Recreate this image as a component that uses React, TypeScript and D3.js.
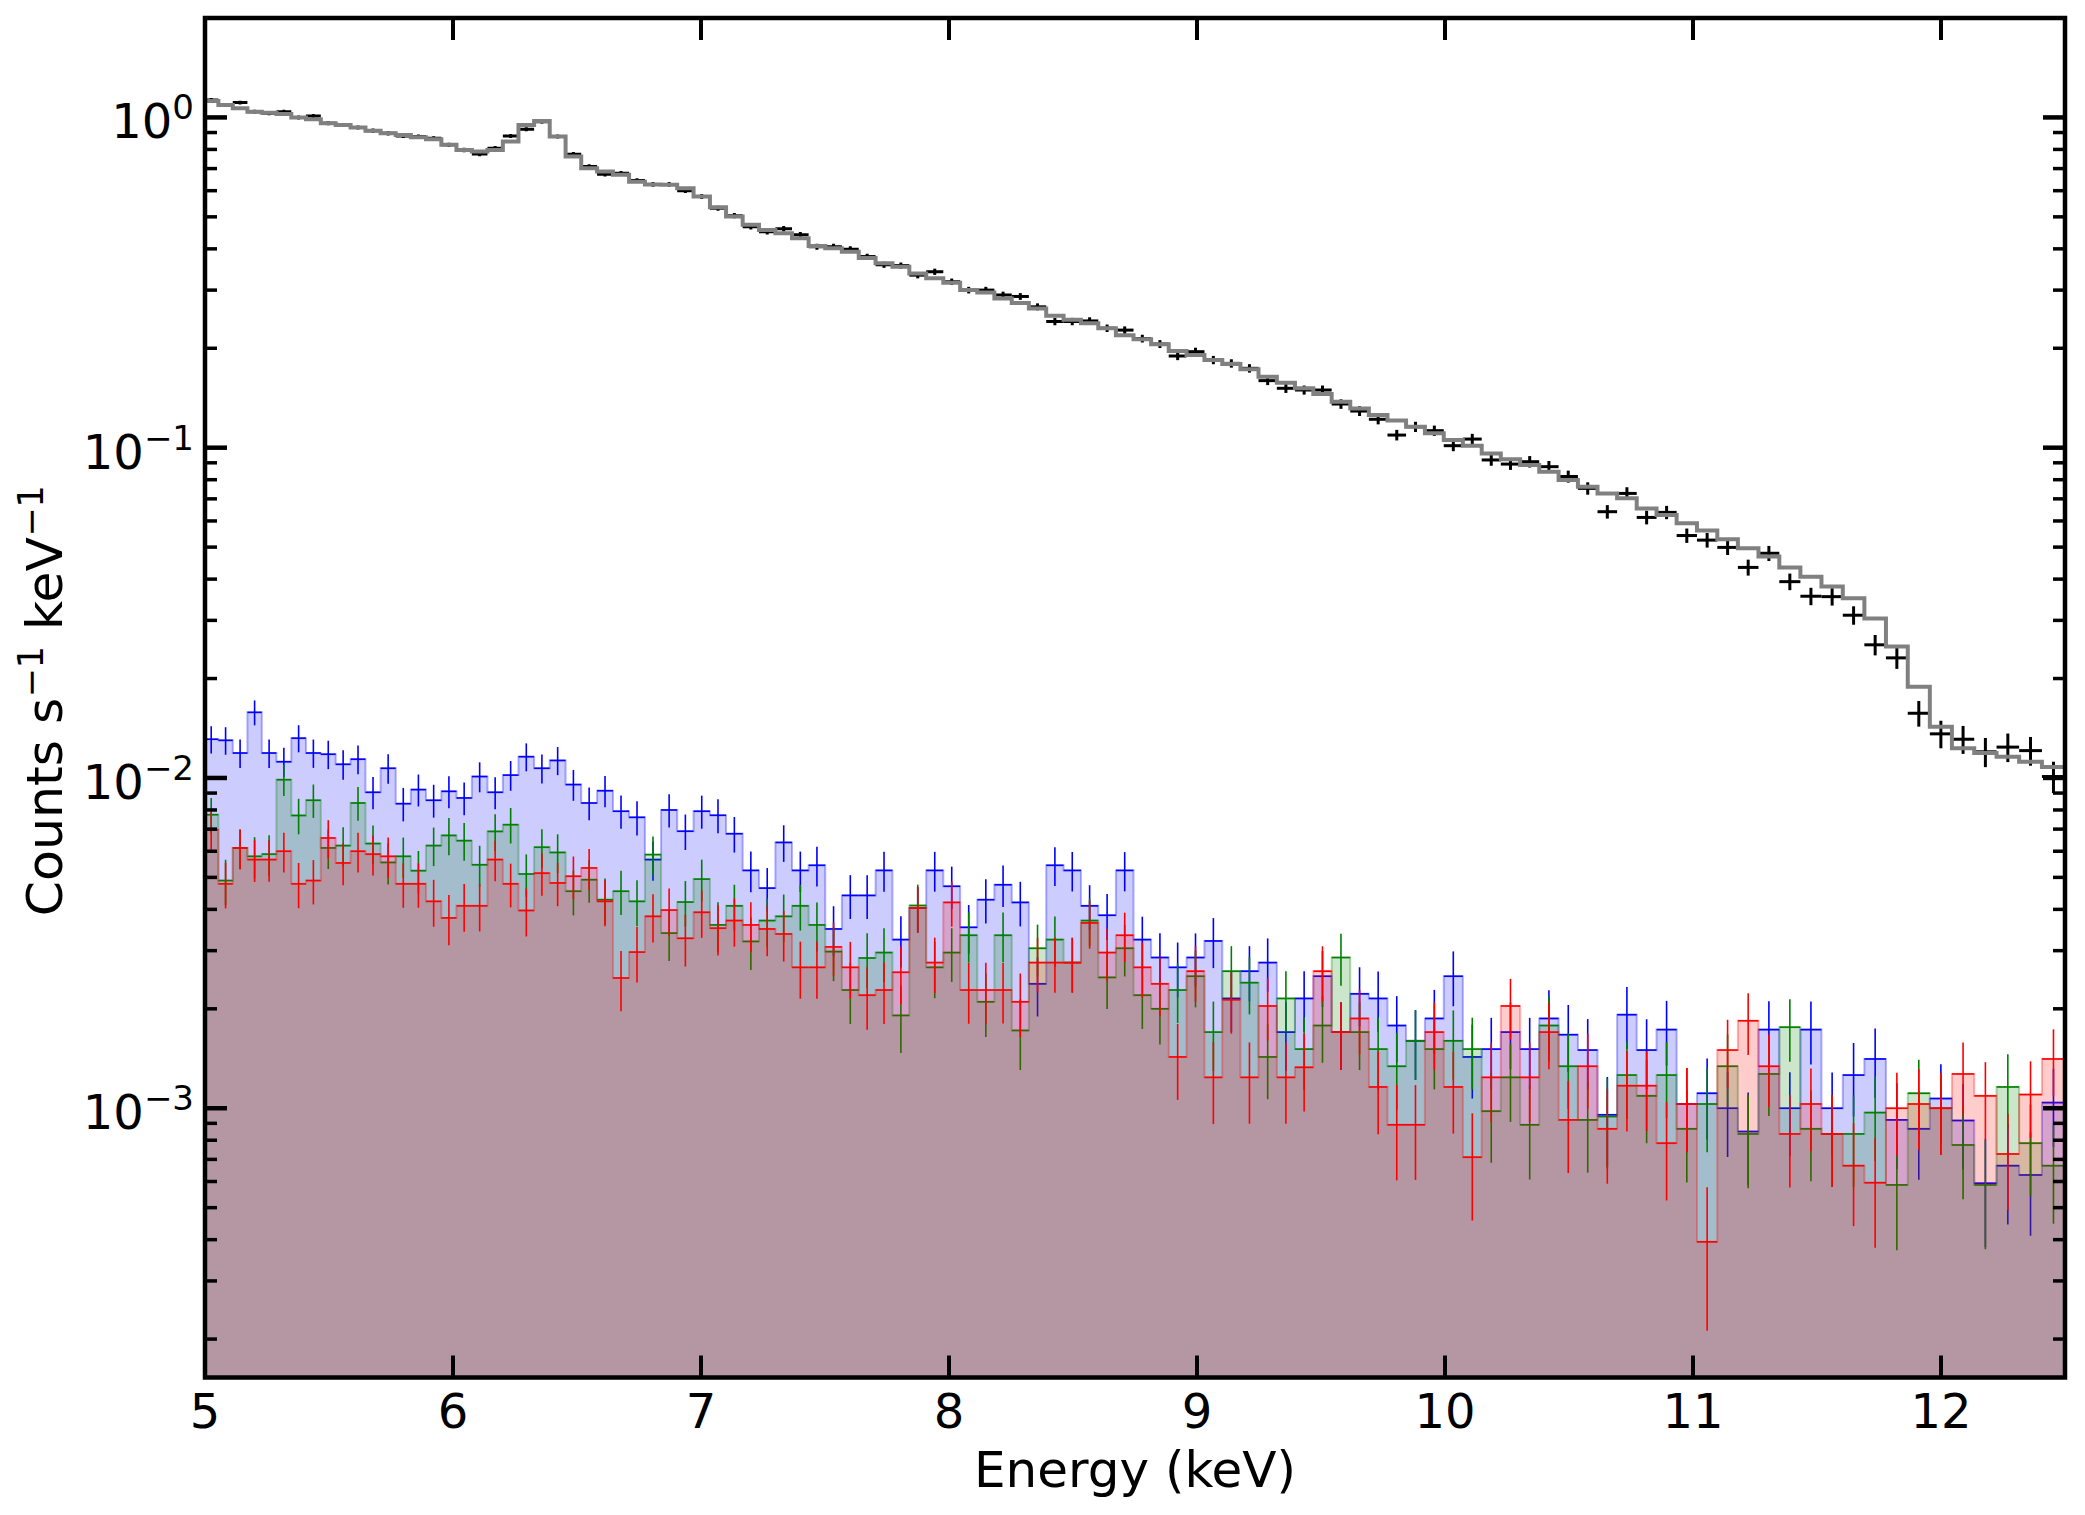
import React from 'react';
import * as d3 from 'd3';

// Shared channel grouping (keV): 106 edges -> 105 bins
const EDGES = [
  4.996, 5.054, 5.112, 5.171, 5.229, 5.288, 5.348, 5.407, 5.467, 5.527,
  5.587, 5.647, 5.708, 5.769, 5.83, 5.891, 5.953, 6.014, 6.076, 6.139,
  6.201, 6.264, 6.327, 6.39, 6.454, 6.517, 6.581, 6.645, 6.71, 6.774,
  6.839, 6.904, 6.97, 7.036, 7.101, 7.168, 7.234, 7.3, 7.367, 7.434,
  7.501, 7.568, 7.636, 7.704, 7.772, 7.84, 7.908, 7.977, 8.045, 8.114,
  8.183, 8.253, 8.322, 8.392, 8.462, 8.532, 8.602, 8.673, 8.744, 8.815,
  8.886, 8.958, 9.03, 9.102, 9.175, 9.248, 9.322, 9.395, 9.469, 9.543,
  9.618, 9.693, 9.768, 9.843, 9.919, 9.995, 10.072, 10.148, 10.225, 10.303,
  10.38, 10.458, 10.536, 10.615, 10.694, 10.773, 10.853, 10.934, 11.016, 11.098,
  11.181, 11.264, 11.348, 11.433, 11.518, 11.604, 11.691, 11.778, 11.866, 11.955,
  12.044, 12.134, 12.224, 12.315, 12.407, 12.5,
];

// Source spectrum (counts s^-1 keV^-1)
const SRC_RATE = [
  1.13, 1.091, 1.109, 1.041, 1.029, 1.041, 0.999, 1.01, 0.96, 0.949,
  0.932, 0.912, 0.895, 0.879, 0.875, 0.865, 0.826, 0.797, 0.775, 0.807,
  0.879, 0.921, 0.971, 0.875, 0.774, 0.71, 0.673, 0.678, 0.644, 0.627,
  0.627, 0.6, 0.576, 0.531, 0.504, 0.467, 0.451, 0.46, 0.441, 0.406,
  0.406, 0.399, 0.379, 0.358, 0.356, 0.333, 0.341, 0.318, 0.3, 0.3,
  0.29, 0.287, 0.267, 0.241, 0.241, 0.242, 0.23, 0.227, 0.214, 0.206,
  0.1895, 0.1953, 0.1843, 0.18, 0.1739, 0.1596, 0.1513, 0.1495, 0.1495, 0.1356,
  0.1291, 0.1219, 0.1092, 0.1157, 0.1126, 0.1014, 0.1062, 0.0918, 0.0892, 0.0907,
  0.0876, 0.0818, 0.0753, 0.064, 0.0727, 0.0615, 0.0637, 0.0542, 0.0525, 0.0499,
  0.0434, 0.0479, 0.0393, 0.0355, 0.0354, 0.0311, 0.0253, 0.0231, 0.0157, 0.0136,
  0.0131, 0.012, 0.0124, 0.0121, 0.0101,
];

// Folded model
const SRC_MODEL = [
  1.122, 1.091, 1.066, 1.041, 1.034, 1.025, 0.999, 0.987, 0.96, 0.949,
  0.932, 0.912, 0.895, 0.885, 0.871, 0.859, 0.826, 0.797, 0.788, 0.797,
  0.845, 0.949, 0.976, 0.875, 0.761, 0.702, 0.686, 0.67, 0.639, 0.627,
  0.625, 0.61, 0.576, 0.535, 0.501, 0.473, 0.456, 0.446, 0.431, 0.408,
  0.402, 0.392, 0.375, 0.362, 0.353, 0.337, 0.326, 0.316, 0.3, 0.295,
  0.283, 0.274, 0.264, 0.251, 0.244, 0.238, 0.23, 0.219, 0.213, 0.2056,
  0.1962, 0.1909, 0.1843, 0.1792, 0.1727, 0.1641, 0.1574, 0.1513, 0.1454, 0.1378,
  0.1315, 0.1256, 0.1208, 0.1158, 0.1105, 0.1055, 0.1014, 0.0961, 0.0922, 0.0886,
  0.0846, 0.0798, 0.0762, 0.0727, 0.0703, 0.0655, 0.0625, 0.059, 0.0561, 0.0528,
  0.0496, 0.0468, 0.0434, 0.0407, 0.038, 0.035, 0.0304, 0.025, 0.0189, 0.0143,
  0.0123, 0.0119, 0.0116, 0.0112, 0.0108,
];

// Background spectra
const BKG_BLUE = [
  0.0131, 0.013, 0.0119, 0.0158, 0.0119, 0.0112, 0.0132, 0.0119, 0.0118, 0.011,
  0.0114, 0.00905, 0.0107, 0.00836, 0.00922, 0.00856, 0.00911, 0.0087, 0.0101, 0.00905,
  0.0102, 0.0116, 0.0107, 0.0113, 0.00955, 0.0084, 0.00915, 0.00793, 0.0076, 0.00566,
  0.008, 0.0069, 0.00793, 0.00771, 0.00678, 0.00525, 0.00464, 0.00638, 0.00525, 0.00544,
  0.00349, 0.00441, 0.00441, 0.00525, 0.00324, 0.00404, 0.00525, 0.0047, 0.00353, 0.00428,
  0.00475, 0.0042, 0.00238, 0.00544, 0.00525, 0.0041, 0.00384, 0.00525, 0.00324, 0.00286,
  0.00267, 0.00286, 0.00321, 0.00215, 0.0026, 0.00276, 0.0017, 0.00215, 0.00251, 0.0017,
  0.00222, 0.00215, 0.00178, 0.0016, 0.00187, 0.00251, 0.00143, 0.00151, 0.0017, 0.00151,
  0.00187, 0.00167, 0.0015, 0.000955, 0.00192, 0.0015, 0.00173, 0.00103, 0.00111, 0.001,
  0.00085, 0.00173, 0.001, 0.00173, 0.001, 0.00126, 0.00141, 0.000922, 0.000866, 0.00107,
  0.000918, 0.000593, 0.00067, 0.000628, 0.00104,
];

const BKG_GREEN = [
  0.00774, 0.00489, 0.00614, 0.00579, 0.00588, 0.00988, 0.0077, 0.00856, 0.00614, 0.00624,
  0.0084, 0.00633, 0.00555, 0.00579, 0.00524, 0.00624, 0.0067, 0.00646, 0.00546, 0.00689,
  0.00722, 0.00512, 0.00617, 0.00595, 0.00454, 0.00492, 0.00428, 0.00454, 0.00423, 0.00586,
  0.00339, 0.00421, 0.00494, 0.00359, 0.0041, 0.0032, 0.0037, 0.00381, 0.0041, 0.00359,
  0.00298, 0.00228, 0.00285, 0.00296, 0.00191, 0.00411, 0.00267, 0.00296, 0.00334, 0.0021,
  0.00334, 0.00172, 0.00305, 0.00324, 0.00276, 0.0037, 0.00249, 0.00305, 0.0022, 0.002,
  0.00228, 0.00251, 0.0017, 0.0026, 0.0024, 0.00143, 0.00215, 0.00151, 0.00178, 0.00286,
  0.0017, 0.00151, 0.00134, 0.0016, 0.00151, 0.0016, 0.00151, 0.00098, 0.00124, 0.000891,
  0.00178, 0.00134, 0.000922, 0.000944, 0.00126, 0.00109, 0.00126, 0.000866, 0.00103, 0.00134,
  0.000836, 0.00127, 0.00176, 0.000866, 0.000836, 0.000836, 0.00097, 0.000586, 0.00111, 0.001,
  0.000774, 0.000586, 0.00116, 0.000784, 0.00067,
];

const BKG_RED = [
  0.00697, 0.00478, 0.00614, 0.00566, 0.00566, 0.006, 0.00478, 0.00489, 0.00658, 0.00553,
  0.006, 0.00588, 0.00579, 0.00478, 0.00478, 0.00423, 0.00377, 0.0041, 0.0041, 0.00566,
  0.00478, 0.00397, 0.00515, 0.00481, 0.00504, 0.00534, 0.00423, 0.00248, 0.00297, 0.00381,
  0.00398, 0.00327, 0.00392, 0.00351, 0.0037, 0.00359, 0.00349, 0.00337, 0.00267, 0.00267,
  0.00308, 0.00267, 0.0022, 0.00228, 0.00258, 0.00404, 0.00276, 0.0042, 0.00228, 0.00228,
  0.00228, 0.0021, 0.00276, 0.00276, 0.00276, 0.00364, 0.00296, 0.00334, 0.00267, 0.00238,
  0.00143, 0.0026, 0.00124, 0.00213, 0.00124, 0.00204, 0.00124, 0.00133, 0.0026, 0.0017,
  0.00187, 0.00116, 0.000891, 0.000891, 0.0017, 0.00116, 0.000711, 0.00124, 0.00204, 0.00124,
  0.0017, 0.000922, 0.00134, 0.000866, 0.00117, 0.00117, 0.000784, 0.00103, 0.000394, 0.0015,
  0.00184, 0.00134, 0.000836, 0.00103, 0.000836, 0.00067, 0.000595, 0.001, 0.00103, 0.001,
  0.00127, 0.00109, 0.000727, 0.0011, 0.00141,
];

const X_TICKS = [5, 6, 7, 8, 9, 10, 11, 12];
const Y_DECADES = [0, -1, -2, -3];

// exposures (s) used for the Poisson error bars
const SRC_EXPOSURE = 9.0e4;
const BKG_EXPOSURE = 1.45e5;

const WIDTH = 2085;
const HEIGHT = 1515;
const PLOT = { left: 205, right: 2065, top: 18, bottom: 1377.5 };
const FONT = 'DejaVu Sans, Liberation Sans, sans-serif';

const poissonErr = (rate: number, dE: number, exposure: number) =>
  Math.sqrt(rate / (dE * exposure));

const App: React.FC = () => {
  const x = d3.scaleLinear().domain([5, 12.5]).range([PLOT.left, PLOT.right]);
  const y = d3.scaleLog().domain([1.53e-4, 2]).range([PLOT.bottom, PLOT.top]);

  const stepPoints = (vals: number[]) => {
    const pts: [number, number][] = vals.map((v, i) => [EDGES[i], v]);
    pts.push([EDGES[vals.length], vals[vals.length - 1]]);
    return pts;
  };

  const stepLine = d3.line<[number, number]>()
    .x(d => x(d[0]))
    .y(d => y(d[1]))
    .curve(d3.curveStepAfter);

  const stepArea = d3.area<[number, number]>()
    .x(d => x(d[0]))
    .y0(PLOT.bottom + 20)
    .y1(d => y(d[1]))
    .curve(d3.curveStepAfter);

  const crosses = (vals: number[], exposure: number, color: string, sw: number, key: string) =>
    vals.map((v, i) => {
      const lo = EDGES[i];
      const hi = EDGES[i + 1];
      const err = poissonErr(v, hi - lo, exposure);
      const xc = x((lo + hi) / 2);
      const yLow = Math.max(v - err, 1e-6);
      return (
        <g key={`${key}-${i}`} stroke={color} strokeWidth={sw}>
          <line x1={x(lo)} x2={x(hi)} y1={y(v)} y2={y(v)} />
          <line x1={xc} x2={xc} y1={y(v + err)} y2={y(yLow)} />
        </g>
      );
    });

  const backgrounds = [
    { key: 'blue', color: '#0000ff', vals: BKG_BLUE },
    { key: 'green', color: '#008000', vals: BKG_GREEN },
    { key: 'red', color: '#ff0000', vals: BKG_RED },
  ];

  // minor ticks on the log axis
  const minorTicks: number[] = [];
  for (let k = -4; k <= 0; k++) {
    for (let m = 2; m <= 9; m++) {
      const v = m * Math.pow(10, k);
      if (v > 1.53e-4 && v < 2) minorTicks.push(v);
    }
  }

  const supLabel = (d: number) => (d === 0 ? '0' : `\u2212${Math.abs(d)}`);

  return (
    <svg
      width={WIDTH}
      height={HEIGHT}
      style={{ position: 'absolute', left: 0, top: 0, background: '#fff' }}
      fontFamily={FONT}
    >
      <defs>
        <clipPath id="plot-clip">
          <rect x={PLOT.left} y={PLOT.top} width={PLOT.right - PLOT.left} height={PLOT.bottom - PLOT.top} />
        </clipPath>
      </defs>
      <rect x={0} y={0} width={WIDTH} height={HEIGHT} fill="#fff" />

      <g clipPath="url(#plot-clip)">
        {backgrounds.map(b => {
          const pts = stepPoints(b.vals);
          return (
            <g key={b.key}>
              <path d={stepArea(pts) || ''} fill={b.color} fillOpacity={0.2} stroke="none" />
              <path d={stepLine(pts) || ''} fill="none" stroke={b.color} strokeOpacity={0.3} strokeWidth={2} />
              {crosses(b.vals, BKG_EXPOSURE, b.color, 1.6, b.key)}
            </g>
          );
        })}

        {crosses(SRC_RATE, SRC_EXPOSURE, '#000', 3, 'src')}
        <path d={stepLine(stepPoints(SRC_MODEL)) || ''} fill="none" stroke="#808080" strokeWidth={4} />
      </g>

      {/* frame */}
      <rect
        x={PLOT.left}
        y={PLOT.top}
        width={PLOT.right - PLOT.left}
        height={PLOT.bottom - PLOT.top}
        fill="none"
        stroke="#000"
        strokeWidth={4.5}
      />

      {/* x ticks (bottom + top, inward) */}
      {X_TICKS.map(t => (
        <g key={`xt-${t}`} stroke="#000" strokeWidth={4}>
          <line x1={x(t)} x2={x(t)} y1={PLOT.bottom} y2={PLOT.bottom - 22} />
          <line x1={x(t)} x2={x(t)} y1={PLOT.top} y2={PLOT.top + 22} />
        </g>
      ))}
      {X_TICKS.map(t => (
        <text key={`xl-${t}`} x={x(t)} y={1428} fontSize={48} textAnchor="middle" fill="#000">
          {t}
        </text>
      ))}

      {/* y ticks (left + right, inward) */}
      {Y_DECADES.map(d => (
        <g key={`yt-${d}`} stroke="#000" strokeWidth={4.5}>
          <line x1={PLOT.left} x2={PLOT.left + 22} y1={y(Math.pow(10, d))} y2={y(Math.pow(10, d))} />
          <line x1={PLOT.right} x2={PLOT.right - 22} y1={y(Math.pow(10, d))} y2={y(Math.pow(10, d))} />
        </g>
      ))}
      {minorTicks.map((v, i) => (
        <g key={`ym-${i}`} stroke="#000" strokeWidth={3.5}>
          <line x1={PLOT.left} x2={PLOT.left + 12} y1={y(v)} y2={y(v)} />
          <line x1={PLOT.right} x2={PLOT.right - 12} y1={y(v)} y2={y(v)} />
        </g>
      ))}
      {Y_DECADES.map(d => (
        <text
          key={`yl-${d}`}
          x={194}
          y={y(Math.pow(10, d)) + 21}
          fontSize={48}
          textAnchor="end"
          fill="#000"
        >
          <tspan>10</tspan>
          <tspan dy={-19} fontSize={34}>{supLabel(d)}</tspan>
        </text>
      ))}

      {/* axis labels */}
      <text x={(PLOT.left + PLOT.right) / 2} y={1487} fontSize={50} textAnchor="middle" fill="#000">
        Energy (keV)
      </text>
      <text
        transform={`translate(62,${(PLOT.top + PLOT.bottom) / 2 + 3}) rotate(-90)`}
        fontSize={50.5}
        textAnchor="middle"
        fill="#000"
      >
        <tspan>{'Counts s'}</tspan>
        <tspan dy={-19} fontSize={35}>{'\u22121'}</tspan>
        <tspan dy={19}>{' keV'}</tspan>
        <tspan dy={-19} fontSize={35}>{'\u22121'}</tspan>
      </text>
    </svg>
  );
};

export default App;
